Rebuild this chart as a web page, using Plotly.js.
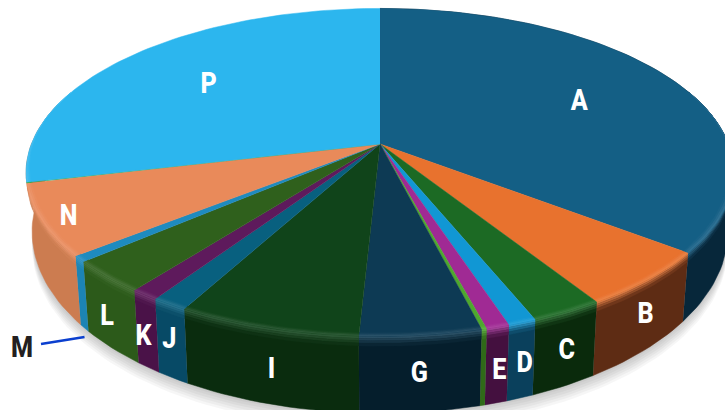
<!DOCTYPE html>
<html><head><meta charset="utf-8">
<script src="https://cdn.plot.ly/plotly-3.0.1.min.js"></script>
<style>html,body{margin:0;padding:0;background:#fff}#c{width:725px;height:410px}</style>
</head><body><div id="c"></div>
<script>
// Data (share of the whole, per cent)
const categories = ['A','B','C','D','E','F','G','I','J','K','L','M','N','O','P'];
const values     = [35.5,5.6,2.8,1.1,0.9,0.2,4.7,7.1,1.4,1.1,3.2,0.6,7.0,0.1,28.7];
const labels     = ['A','B','C','D','E','','G','I','J','K','L','','N','','P'];
const topColors  = ['#145f85','#e8722e','#1c6a24','#1197d4','#a02a94','#4ea82e','#0d3a54','#10441a','#08607f','#5e1a5c','#2f601c','#1e8bbf','#e98a5a','#2aa84a','#2cb6ee'];
const wallColors = ['#07273a','#5e2c14','#0a2a0c','#0a405c','#44103f','#2f6a18','#051e2c','#0a2c0e','#074a66','#4a1248','#2c5a1a','#1c84b4','#cc7c50','#2aa84a','#2cb6ee'];

// Label placement: radius on the top face, or depth down the wall, and small nudges
const labelRadius = [0.67,1,1,1,1,1,1,1,1,1,1,1,0.926,1,0.67];
const labelDepth  = [0,0.47,0.5,0.52,0.55,0,0.47,0.52,0.45,0.55,0.53,0,0,0,0];
const labelNudge  = [0,-1,1,4,3,0,-2,3,-2,-3,-2,0,0,0,-1];

// Projection of the tilted disc
const cx=380, cy=144, a=348.6, b=159, k=0.173;
function proj(thetaDeg, r, depth){
  const t=thetaDeg*Math.PI/180, u=r*Math.sin(t), v=-r*Math.cos(t), s=1/(1-k*v);
  let x=cx+a*u*s, y=cy+b*v*s;
  x=cx+(x-cx)*(1-0.017*depth);
  y=y+depth*(55+22*v);
  return [x,y];
}
function hex(c){return [1,3,5].map(i=>parseInt(c.substr(i,2),16));}
function mixA(A,B,t){return A.map((v,i)=>Math.round(v+(B[i]-v)*t));}
const css=A=>'rgb('+A.join(',')+')';
function poly(pts,color,w){
  return {type:'scatter',mode:'lines',x:pts.map(p=>p[0]),y:pts.map(p=>p[1]),fill:'toself',fillcolor:color,
    line:{color:color,width:w===undefined?0.5:w,shape:'linear'},hoverinfo:'skip',showlegend:false};
}
function arc(t0,t1,fn){const n=Math.max(2,Math.ceil(Math.abs(t1-t0)/1.5)),o=[];
  for(let i=0;i<=n;i++){const t=t0+(t1-t0)*i/n;o.push(fn(t));}return o;}
const taper=t=>Math.max(0,Math.min(1,(-Math.cos(t*Math.PI/180)+0.2)/0.5));

const total=values.reduce((p,c)=>p+c,0);
const edges=[0];values.forEach(v=>edges.push(edges[edges.length-1]+v/total*360));

const shadow=[],walls=[],wallBands=[],tops=[],topBands=[],annotations=[];
// soft shadow
for(let i=6;i>=1;i--){
  const pts=arc(0,360,t=>{const p=proj(t,1,1);return [p[0],p[1]+i*2.6];});
  shadow.push(poly(pts,'rgba(0,0,0,0.035)',0));
}
categories.forEach((c,i)=>{
  const t0=edges[i],t1=edges[i+1],top=hex(topColors[i]),wall=hex(wallColors[i]);
  const hi=mixA(top,[255,255,255],0.14);
  // the N wall runs on to the silhouette; O and P walls are out of sight in the reference
  const wallEnd=(c==='N')?285:t1;
  if(c!=='O'&&c!=='P') walls.push(poly(arc(t0,wallEnd,t=>proj(t,1,0)).concat(arc(wallEnd,t0,t=>proj(t,1,1))),css(wall)));
  const lo=Math.max(t0,70),up=Math.min(t1,290);
  if(up>lo){
    const wd=[0,0.03,0.06,0.09,0.13], rd=[0.985,0.99,0.995,1];
    if(c!=='O'&&c!=='P') for(let j=0;j<wd.length-1;j++){
      wallBands.push(poly(arc(lo,up,t=>proj(t,1,wd[j]*taper(t))).concat(arc(up,lo,t=>proj(t,1,wd[j+1]*taper(t)))),
        css(mixA(hi,wall,(j+0.5)/(wd.length-1))),0.3));
    }
    tops.push(poly([[cx,cy]].concat(arc(t0,t1,t=>proj(t,1,0))),css(top)));
    for(let j=0;j<rd.length-1;j++){
      topBands.push(poly(arc(lo,up,t=>proj(t,1-(1-rd[j])*taper(t),0)).concat(arc(up,lo,t=>proj(t,1-(1-rd[j+1])*taper(t),0))),
        css(mixA(top,hi,(j+0.5)/(rd.length-1))),0.3));
    }
  } else {
    tops.push(poly([[cx,cy]].concat(arc(t0,t1,t=>proj(t,1,0))),css(top)));
  }
  if(labels[i]){
    const p=proj((t0+t1)/2,labelRadius[i],labelDepth[i]);
    annotations.push({x:p[0]+labelNudge[i],y:p[1],xref:'x',yref:'y',text:labels[i],showarrow:false,
      font:{family:'Roboto, sans-serif',size:30,color:'#ffffff',weight:800},xanchor:'center',yanchor:'middle'});
  }
});
// Callout for M
const iM=categories.indexOf('M');
const tM=(edges[iM]+edges[iM+1])/2, pM=proj(tM,1,1);
const leader={type:'scatter',mode:'lines',x:[pM[0],41],y:[pM[1]+9,344],line:{color:'#0b3fcf',width:2.5},hoverinfo:'skip',showlegend:false};
annotations.push({x:22,y:346,xref:'x',yref:'y',text:'M',showarrow:false,
  font:{family:'Roboto, sans-serif',size:30,color:'#231f20',weight:800},xanchor:'center',yanchor:'middle'});

Plotly.newPlot('c',[].concat(shadow,walls,wallBands,tops,topBands,[leader]),{
  width:725,height:410,margin:{l:0,r:0,t:0,b:0},paper_bgcolor:'#fff',plot_bgcolor:'#fff',showlegend:false,
  xaxis:{range:[0,725],visible:false,fixedrange:true},
  yaxis:{range:[410,0],visible:false,fixedrange:true},
  annotations:annotations
},{displayModeBar:false,staticPlot:true}).then(()=>{
  // the reference's labels are set in a condensed cut: narrow the real text about its own centre
  document.querySelectorAll('#c .annotation-text').forEach(el=>{
    const bb=el.getBBox(), mid=bb.x+bb.width/2;
    el.setAttribute('transform','translate('+mid+',0) scale(0.84,1) translate('+(-mid)+',0)');
  });
});
</script></body></html>
